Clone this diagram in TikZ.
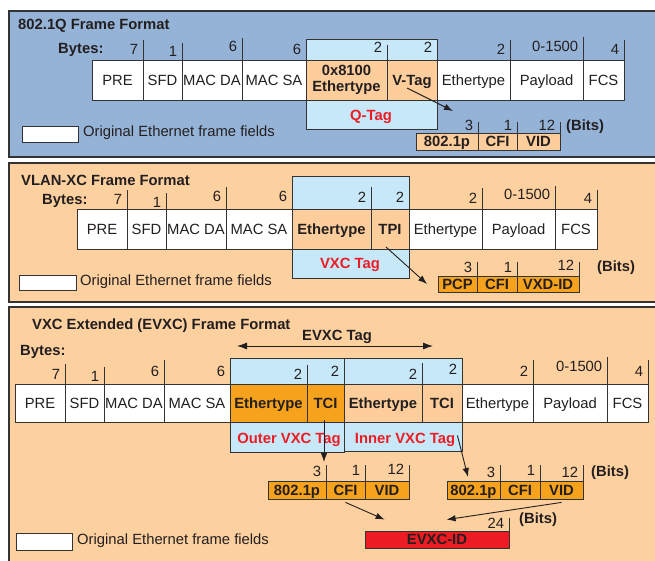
\documentclass[tikz,border=0pt]{standalone}
\usepackage{fontspec}
\setmainfont{Liberation Sans}
\usetikzlibrary{arrows.meta,fit}

\definecolor{panelblue}{HTML}{95B3D7}
\definecolor{panelpeach}{HTML}{FDD09F}
\definecolor{tagblue}{HTML}{C6E8F8}
\definecolor{tagpeach}{HTML}{FDCE9B}
\definecolor{tagorange}{HTML}{F6A21D}
\definecolor{tagred}{HTML}{ED1C24}
\definecolor{linegray}{HTML}{333333}
\definecolor{textgray}{HTML}{231F20}

\newcommand{\figfont}{\fontsize{14.8}{16}\selectfont}

\tikzset{
  panel/.style={draw=linegray, line width=1.2pt, inner sep=0pt},
  cellbase/.style={draw=linegray, line width=0.8pt, fill=white, inner sep=0pt,
    align=center, text=textgray, font=\figfont},
  cell/.style={cellbase, text height=13pt, text depth=3pt},
  boldcell/.style={cell, font=\figfont\bfseries},
  tagbox/.style={draw=linegray, line width=0.8pt, fill=tagblue, inner sep=0pt},
  tick/.style={draw=linegray, line width=0.8pt},
  num/.style={anchor=east, inner sep=0pt, text=textgray, font=\figfont},
  ttl/.style={anchor=west, inner sep=0pt, text=textgray, font=\figfont\bfseries},
  taglabel/.style={inner sep=0pt, text=tagred, font=\figfont\bfseries},
  note/.style={anchor=west, inner sep=0pt, text=textgray, font=\figfont},
  ptr/.style={draw=textgray, line width=0.9pt, -{Latex[length=9pt,width=6.5pt]}},
  span/.style={draw=textgray, line width=0.9pt,
    {Latex[length=10pt,width=7pt]}-{Latex[length=10pt,width=7pt]}},
}

\begin{document}
\begin{tikzpicture}[x=1pt,y=-1pt]
\useasboundingbox (0,0) rectangle (655,560);
\clip (0,0) rectangle (655,560);

% 802.1Q
\node[panel, fill=panelblue, fit={(9,11)(668,157)}] (pnlq) {};
\node[ttl] (ttlq) at (18,26) {802.1Q Frame Format};
\node[ttl] (byq) at (58,50) {Bytes:};
\node[tagbox, fit={(306,39)(437,129)}] (qtag) {};
\foreach \n/\a/\b/\t in {pre/92/143/PRE, sfd/143/182/SFD, mda/182/242/MAC DA,
    msa/242/306/MAC SA, eth/437/510/Ethertype, pay/510/583/Payload, fcs/583/624/FCS}
  \node[cell, minimum width=\b-\a, minimum height=40] (q\n) at ({(\a+\b)/2},80) {\t};
\node[cellbase, fill=tagpeach, font=\figfont\bfseries, minimum width=81, minimum height=40] (qet) at (346.5,80) {0x8100\\Ethertype};
\node[boldcell, fill=tagpeach, minimum width=50, minimum height=40] (qvt) at (412,80) {V-Tag};
\foreach \n/\h/\u/\v in {pre/20/10/7, sfd/17/8/1, mda/22/13/6, msa/21/10/6, et/15/12/2,
    vt/21/12/2, eth/20/10/2, pay/23/13/0-1500, fcs/20/10/4}
{
  \draw[tick] (q\n.north east) -- ++(0,-\h);
  \node[num] (qb\n) at ([shift={(-5,-\u)}]q\n.north east) {\v};
}
\node[taglabel] (qlbl) at (371,117) {Q-Tag};
\foreach \n/\a/\b/\t in {p/416/478/802.1p, c/478/517/CFI, v/517/560/VID}
{
  \node[boldcell, fill=tagpeach, minimum width=\b-\a, minimum height=17] (qf\n) at ({(\a+\b)/2},141.5) {\t};
  \draw[tick] (qf\n.north east) -- ++(0,-11);
}
\node[num] (qn3) at ([shift={(-5,-7)}]qfp.north east) {3};
\node[num] (qn1) at ([shift={(-5,-7)}]qfc.north east) {1};
\node[num] (qn12) at ([shift={(-5,-7)}]qfv.north east) {12};
\node[ttl] (qbits) at (566,127) {(Bits)};
\coordinate (qvend) at (453,111);
\draw[ptr] ([shift={(-5,8)}]qvt.center) -- (qvend);
\node[cellbase, fit={(22,126)(78,142)}] (qkey) {};
\node[note] (qkeytxt) at (83,133) {Original Ethernet frame fields};

% VLAN-XC
\node[panel, fill=panelpeach, fit={(9,163)(668,302)}] (pnlx) {};
\node[ttl] (ttlx) at (21,180) {VLAN-XC Frame Format};
\node[ttl] (byx) at (42,201) {Bytes:};
\node[tagbox, fit={(292,176)(409,278)}] (xtag) {};
\foreach \n/\a/\b/\t in {pre/77/127/PRE, sfd/127/166/SFD, mda/166/226/MAC DA,
    msa/226/292/MAC SA, eth/409/482/Ethertype, pay/482/555/Payload, fcs/555/597/FCS}
  \node[cell, minimum width=\b-\a, minimum height=40] (x\n) at ({(\a+\b)/2},229) {\t};
\node[boldcell, fill=tagpeach, minimum width=79, minimum height=40] (xet) at (331.5,229) {Ethertype};
\node[boldcell, fill=tagpeach, minimum width=38, minimum height=40] (xtpi) at (390,229) {TPI};
\foreach \n/\h/\u/\v in {pre/19/9/7, sfd/16/6/1, mda/22/12/6, msa/33/12/6, et/22/11/2,
    tpi/33/11/2, eth/21/10/2, pay/23/14/0-1500, fcs/19/10/4}
{
  \draw[tick] (x\n.north east) -- ++(0,-\h);
  \node[num] (xb\n) at ([shift={(-5,-\u)}]x\n.north east) {\v};
}
\node[taglabel] (xlbl) at (350,265) {VXC Tag};
\foreach \n/\a/\b/\t in {p/438/477/PCP, c/477/517/CFI, v/517/579/VXD-ID}
{
  \node[boldcell, fill=tagorange, minimum width=\b-\a, minimum height=16] (xf\n) at ({(\a+\b)/2},284) {\t};
  \draw[tick] (xf\n.north east) -- ++(0,-14);
}
\node[num] (xn3) at ([shift={(-5,-8)}]xfp.north east) {3};
\node[num] (xn1) at ([shift={(-5,-8)}]xfc.north east) {1};
\node[num] (xn12) at ([shift={(-5,-10)}]xfv.north east) {12};
\node[ttl] (xbits) at (597,268) {(Bits)};
\coordinate (xtend) at (427,284);
\draw[ptr] ([shift={(-4,18)}]xtpi.center) -- (xtend);
\node[cellbase, fit={(19,275)(76,290)}] (xkey) {};
\node[note] (xkeytxt) at (80,282) {Original Ethernet frame fields};

% EVXC
\node[panel, fill=panelpeach, fit={(9,307)(668,570)}] (pnle) {};
\node[ttl] (ttle) at (32,326) {VXC Extended (EVXC) Frame Format};
\node[ttl] (bye) at (20,352) {Bytes:};
\node[ttl, anchor=center] (etaglbl) at (337,337) {EVXC Tag};
\coordinate (espanl) at (237,346);
\coordinate (espanr) at (433,346);
\draw[span] (espanl) -- (espanr);
\node[tagbox, fit={(230,358)(344,452)}] (eotag) {};
\node[tagbox, fit={(344,358)(462,451)}] (eitag) {};
\foreach \n/\a/\b/\t in {pre/15/65/PRE, sfd/65/104/SFD, mda/104/164/MAC DA,
    msa/164/230/MAC SA, eth/462/533/Ethertype, pay/533/607/Payload, fcs/607/648/FCS}
  \node[cell, minimum width=\b-\a, minimum height=38] (e\n) at ({(\a+\b)/2},403) {\t};
\node[boldcell, fill=tagorange, minimum width=77, minimum height=38] (eoet) at (268.5,403) {Ethertype};
\node[boldcell, fill=tagorange, minimum width=37, minimum height=38] (eotci) at (325.5,403) {TCI};
\node[boldcell, fill=tagpeach, minimum width=78, minimum height=38] (eiet) at (383,403) {Ethertype};
\node[boldcell, fill=tagpeach, minimum width=40, minimum height=38] (eitci) at (442,403) {TCI};
\foreach \n/\h/\u/\v in {pre/20/9/7, sfd/17/7/1, mda/24/12/6, msa/26/12/6, oet/19/9/2,
    otci/26/12/2, iet/21/9/2, itci/26/14/2, eth/24/12/2, pay/27/17/0-1500, fcs/24/12/4}
{
  \draw[tick] (e\n.north east) -- ++(0,-\h);
  \node[num] (eb\n) at ([shift={(-5,-\u)}]e\n.north east) {\v};
}
\node[taglabel] (eolbl) at (289,440) {Outer VXC Tag};
\node[taglabel] (eilbl) at (405,440) {Inner VXC Tag};
\foreach \n/\a/\b/\t in {op/268/326/802.1p, oc/326/365/CFI, ov/365/409/VID,
    ip/447/500/802.1p, ic/500/540/CFI, iv/540/583/VID}
{
  \node[boldcell, fill=tagorange, minimum width=\b-\a, minimum height=18] (ef\n) at ({(\a+\b)/2},490) {\t};
  \draw[tick] (ef\n.north east) -- ++(0,-16);
}
\foreach \n/\u/\v in {op/9/3, oc/10/1, ov/11/12, ip/8/3, ic/10/1, iv/8/12}
  \node[num] (en\n) at ([shift={(-5,-\u)}]ef\n.north east) {\v};
\node[ttl] (ebits) at (591,473) {(Bits)};
\node[boldcell, fill=tagred, minimum width=144, minimum height=17] (eid) at (437,539.5) {EVXC-ID};
\draw[tick] (eid.north east) -- ++(0,-13);
\node[num] (en24) at ([shift={(-5,-7)}]eid.north east) {24};
\node[ttl] (eidbits) at (519,520) {(Bits)};
\coordinate (eoend) at (324,462);
\coordinate (eiend) at (468,477);
\draw[ptr] ([shift={(-1.5,17)}]eotci.center) -- (eoend);
\draw[ptr] ([shift={(-5,-16)}]eitag.south east) -- (eiend);
\draw[ptr] ([shift={(0,3)}]efoc.south) -- ([shift={(20,-11)}]eid.north west);
\draw[ptr] ([shift={(0,3)}]efiv.south) -- ([shift={(82,-11)}]eid.north west);
\node[cellbase, fit={(16,533)(72,550)}] (ekey) {};
\node[note] (ekeytxt) at (77,541) {Original Ethernet frame fields};
\end{tikzpicture}
\end{document}
